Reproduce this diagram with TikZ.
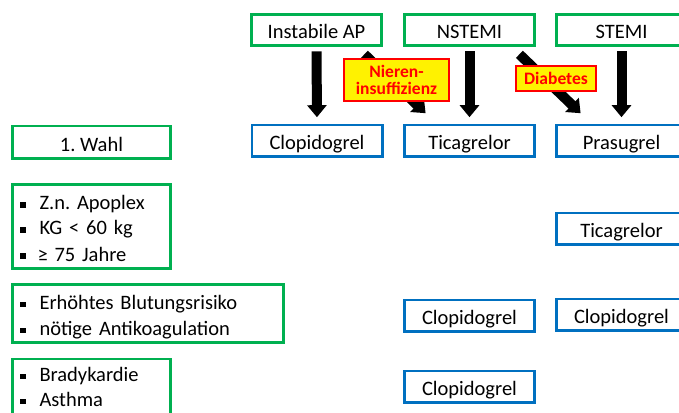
\documentclass[tikz,border=0pt]{standalone}
\usepackage{fontspec}
\setmainfont{Carlito}
\usepackage{tikz}
\usetikzlibrary{arrows.meta}

\definecolor{boxgreen}{RGB}{0,176,80}
\definecolor{boxblue}{RGB}{0,112,192}
\newcommand{\sqbullet}{\rule[2.4pt]{5.5pt}{5.5pt}\hspace{14pt}}
\newcommand{\lstrut}{\rule[-3.5pt]{0pt}{25pt}}
\newcommand{\lstrutb}{\rule[-5.5pt]{0pt}{23.5pt}}
\frenchspacing

\begin{document}
\begin{tikzpicture}[x=1pt, y=-1pt, every node/.style={font=\fontsize{20.5}{25}\selectfont},
	>={Triangle[length=12pt, width=19pt]},
	grbox/.style={draw=boxgreen, line width=2.7pt, minimum width=130.3pt, minimum height=31.3pt, inner sep=0pt,
		text height=21pt, text depth=3pt},
	blbox/.style={draw=boxblue, line width=2.7pt, minimum width=130.3pt, minimum height=31.3pt, inner sep=0pt,
		text height=21pt, text depth=3pt},
	listbox/.style={draw=boxgreen, line width=2.7pt, align=left, inner xsep=7.6pt, inner ysep=0pt},
	warn/.style={draw=red, line width=2pt, fill=yellow, text=red, align=center, inner sep=0pt,
		font=\fontsize{17.5}{16.5}\selectfont\bfseries},
	bigarrow/.style={->, line width=10pt}]
	\useasboundingbox (0,0) rectangle (679,412);
	\clip (0,0) rectangle (679,412);
	% Einteilung
	\node[grbox] (iap) at (316.5,30) {Instabile AP};
	\node[grbox] (nst) at (469.5,30) {NSTEMI};
	\node[grbox] (st) at (621.5,30) {STEMI};
	% linke Spalte
	\node[grbox, minimum width=158.3pt, minimum height=32.3pt] (wahl) at (91.5,142) {1. Wahl};
	\node[listbox, text width=143pt, minimum width=158.3pt, minimum height=84.3pt] (apo) at (91.5,226.5)
		{\sqbullet Z.n. Apoplex\lstrut\\ \sqbullet KG < 60 kg\lstrut\\ \sqbullet\hspace{-2pt}≥ 75 Jahre\lstrut};
	\node[listbox, text width=256pt, minimum width=271.3pt, minimum height=58.3pt] (blut) at (148,313.5)
		{\sqbullet Erhöhtes Blutungsrisiko\lstrut\\ \sqbullet nötige Antikoagulation\lstrut};
	\node[listbox, text width=143pt, minimum width=158.3pt, minimum height=58.3pt] (brady) at (91.5,388)
		{\sqbullet Bradykardie\lstrutb\\ \sqbullet Asthma\lstrutb};
	% Therapie
	\node[blbox] (clop) at (317,140.5) {Clopidogrel};
	\node[blbox] (tica) at (469.5,140.5) {Ticagrelor};
	\node[blbox] (pras) at (621.5,140.5) {Prasugrel};
	\node[blbox] (tica2) at (621.5,228.5) {Ticagrelor};
	\node[blbox] (clopb) at (469.5,315.5) {Clopidogrel};
	\node[blbox] (clopc) at (621.5,314.5) {Clopidogrel};
	\node[blbox] (clopd) at (469.5,386.5) {Clopidogrel};
	% Pfeile
	\draw[bigarrow, shorten <=4.3pt, shorten >=6.3pt] (iap.south) -- (clop.north);
	\draw[bigarrow, shorten <=4.3pt, shorten >=6.3pt] (nst.south) -- (tica.north);
	\draw[bigarrow, shorten <=4.3pt, shorten >=6.3pt] (st.south) -- (pras.north);
	\draw[bigarrow] ([xshift=-18.6pt, yshift=-7.3pt]iap.south east) -- ([xshift=22.6pt, yshift=10.3pt]tica.north west);
	\draw[bigarrow] ([xshift=-16.6pt, yshift=-7.3pt]nst.south east) -- ([xshift=25.6pt, yshift=10.3pt]pras.north west);
	% Hinweise
	\node[warn, minimum width=105pt, minimum height=42pt] (niere) at (396.5,80) {Nieren-\\insuffizienz};
	\node[warn, minimum width=80pt, minimum height=25pt] (diab) at (556,78.5) {Diabetes};
\end{tikzpicture}
\end{document}
